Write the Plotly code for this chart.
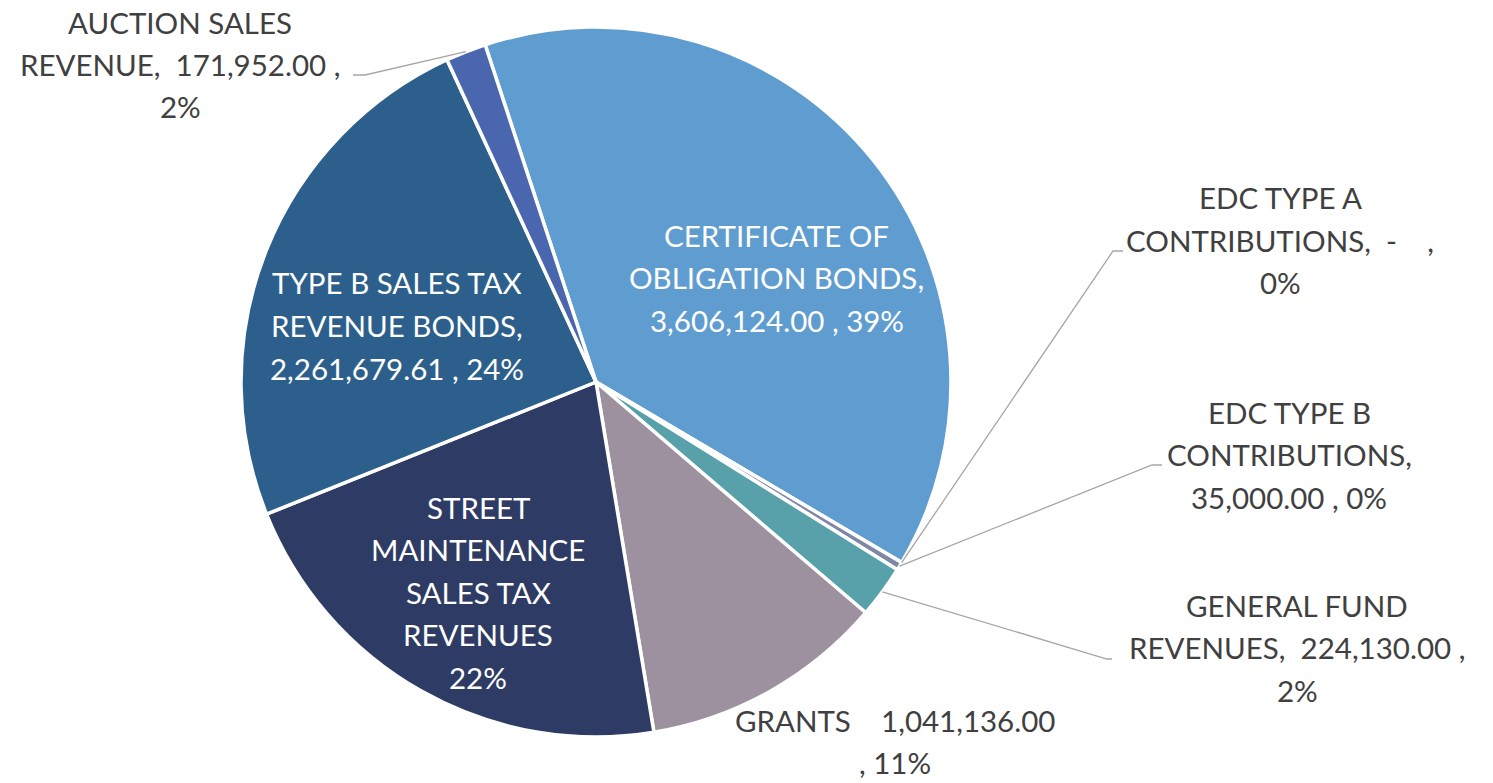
import math
import plotly.graph_objects as go

# ---------------- data ----------------
categories = [
    "CERTIFICATE OF OBLIGATION BONDS",
    "EDC TYPE A CONTRIBUTIONS",
    "EDC TYPE B CONTRIBUTIONS",
    "GENERAL FUND REVENUES",
    "GRANTS",
    "STREET MAINTENANCE SALES TAX REVENUES",
    "TYPE B SALES TAX REVENUE BONDS",
    "AUCTION SALES REVENUE",
]
values = [3606124.00, 0.0, 35000.00, 224130.00, 1041136.00, 2015000.00, 2261679.61, 171952.00]
colors = ["#5f9dd1", "#7f86a6", "#7f86a6", "#58a1ab", "#9e919f", "#2e3c65", "#2c5f8c", "#4a66ae"]

# label lines ({v} = value, {p} = percent)
label_lines = [
    ["CERTIFICATE OF", "OBLIGATION BONDS,", "{v} , {p}"],
    ["EDC TYPE A", "CONTRIBUTIONS,  -    ,", "{p}"],
    ["EDC TYPE B", "CONTRIBUTIONS,", "{v} , {p}"],
    ["GENERAL FUND", "REVENUES,  {v} ,", "{p}"],
    ["GRANTS    {v}", ", {p}"],
    ["STREET", "MAINTENANCE", "SALES TAX", "REVENUES", "{p}"],
    ["TYPE B SALES TAX", "REVENUE BONDS,", "{v} , {p}"],
    ["AUCTION SALES", "REVENUE,  {v} ,", "{p}"],
]

# ---------------- layout / style ----------------
W, H = 1493, 783
OFF = 8                             # page body margin
CX, CY, R = 596, 382, 355          # pie centre / radius in page px
ROTATION = -18.2
FONT = "Lato, 'Open Sans', sans-serif"
FS = 29.5
LINE_H = 42.5
DARK = "#404040"

# label placement (page px): centre x, first-line y, colour
label_pos = [
    (777, 235, "white"),
    (1280, 198, DARK),
    (1289, 412, DARK),
    (1297, 605, DARK),
    (895, 720, DARK),
    (478, 507, "white"),
    (397, 283, "white"),
    (180, 22, DARK),
]
# leader lines: (label end x, elbow x, y) for slices with callouts
leaders = {
    7: (353, 365, 75),
    1: (1123, 1113, 251),
    2: (1162, 1152, 465),
    3: (1112, 1107, 659),
}


def px(x, y):
    return (x - OFF) / W, 1 - (y - OFF) / H


total = sum(values)
fig = go.Figure()
fig.add_trace(go.Pie(
    labels=categories,
    values=values,
    sort=False,
    direction="clockwise",
    rotation=ROTATION,
    marker=dict(colors=colors, line=dict(color="white", width=3.5)),
    textinfo="none",
    hoverinfo="label+value+percent",
    showlegend=False,
    domain=dict(x=[(CX - OFF - R) / W, (CX - OFF + R) / W],
                y=[(H - (CY - OFF) - R) / H, (H - (CY - OFF) + R) / H]),
))

annotations = []
shapes = []
cum = 0.0
mids = []
for v in values:
    a0 = ROTATION + 360 * cum / total
    cum += v
    a1 = ROTATION + 360 * cum / total
    mids.append((a0 + a1) / 2)

for i, lines in enumerate(label_lines):
    v = values[i]
    pct = 100 * v / total
    vs = f"{v:,.2f}"
    ps = f"{pct:.0f}%"
    x0, y0, col = label_pos[i]
    for j, ln in enumerate(lines):
        t = ln.format(v=vs, p=ps).replace(" ", "\u00a0")
        xp, yp = px(x0, y0 + j * LINE_H)
        annotations.append(dict(
            x=xp, y=yp, xref="paper", yref="paper", text=t, showarrow=False,
            xanchor="center", yanchor="middle",
            font=dict(family=FONT, size=FS, color=col),
        ))

for i, (xe, xb, y) in leaders.items():
    a = math.radians(mids[i])
    ex = CX + R * math.sin(a)
    ey = CY - R * math.cos(a)
    pts = [(xe, y), (xb, y), (ex, ey)]
    path = "M " + " L ".join(f"{px(x, yy)[0]},{px(x, yy)[1]}" for x, yy in pts)
    shapes.append(dict(type="path", xref="paper", yref="paper", path=path,
                       line=dict(color="#a6a6a6", width=1.3)))

fig.update_layout(
    width=W, height=H,
    margin=dict(l=0, r=0, t=0, b=0),
    paper_bgcolor="white", plot_bgcolor="white",
    annotations=annotations,
    shapes=shapes,
    font=dict(family=FONT),
)

fig.write_html("out.html")
